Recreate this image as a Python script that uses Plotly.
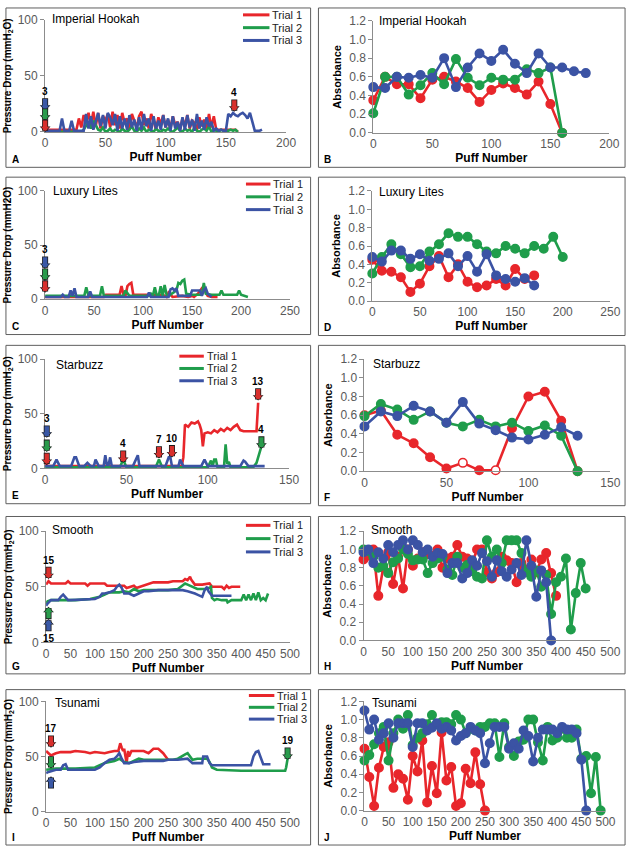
import plotly.graph_objects as go

# ======================= DATA =======================
TRIALS = ["Trial 1", "Trial 2", "Trial 3"]

# ---- A: Imperial Hookah, pressure drop (mmH2O) vs puff ----
A_t1_x = list(range(0, 162, 2))
A_t1_y = [2, 2, 2, 2, 2, 2, 2, 2, 2, 2, 2, 2, 2, 2,
          12, 4, 15, 8, 17, 6, 18, 5, 17, 3, 14, 10, 16, 4, 18, 6, 15,
          3, 17, 8, 12, 2, 16, 9, 4, 14, 18, 6, 12, 3, 16, 10, 2, 13, 7, 15, 4,
          11, 3, 14, 6, 9, 2, 12, 5, 15, 3, 10, 8, 2, 13, 5, 11, 3, 16, 4, 14,
          2, 2, 2, 2, 2, 2, 2, 2, 2, 0]
A_t2_x = list(range(0, 162, 2))
A_t2_y = [0, 0, 0, 0, 0, 0, 0, 0, 0, 0, 0, 0, 0, 0, 0, 0,
          2, 5, 9, 3, 10, 6, 2, 1, 4, 0, 1, 3, 0, 2, 1,
          0, 3, 1, 0, 2, 5, 1, 0, 3, 1, 4, 0, 2, 1, 0, 3, 1, 0, 2, 1,
          3, 1, 0, 2, 4, 1, 0, 3, 1, 2, 0, 4, 1, 0, 2, 3, 1, 5, 0, 2,
          1, 0, 2, 1, 0, 1, 2, 1, 2, 0]
A_t3_x = list(range(0, 182, 2))
A_t3_y = [1, 1, 1, 1, 1, 1,
          1, 12, 1, 1, 1, 10, 1, 1, 1, 1,
          1, 16, 3, 14, 2, 9, 17, 5, 15, 3, 17, 13, 6, 16, 1,
          14, 3, 12, 2, 15, 4, 11, 1, 13, 2, 16, 5, 12, 1, 14, 3, 10, 2, 15, 4,
          12, 1, 14, 3, 9, 1, 13, 2, 15, 4, 11, 1, 16, 3, 10, 2, 13, 5, 9, 1,
          3, 1, 2, 1, 1,
          16, 14, 17, 15, 14, 16, 17, 15, 12, 17, 10,
          1, 1, 1, 2]
A_arrow_x = [0, 0, 0, 157]
A_arrow_y = [19, 10, 0, 18]
A_arrow_trial = [3, 2, 1, 1]
A_arrow_dir = ["down", "down", "down", "down"]
A_arrow_label = ["3", "", "", "4"]

# ---- B: Imperial Hookah, absorbance ----
B_t1_x = list(range(0, 170, 10))
B_t1_y = [0.35, 0.60, 0.52, 0.52, 0.37, 0.57, 0.60, 0.55, 0.48, 0.33, 0.46, 0.53, 0.48, 0.41, 0.55, 0.31, 0.0]
B_t2_x = list(range(0, 170, 10))
B_t2_y = [0.21, 0.60, 0.60, 0.41, 0.51, 0.64, 0.52, 0.79, 0.59, 0.51, 0.59, 0.57, 0.57, 0.68, 0.64, 0.70, 0.0]
B_t3_x = list(range(0, 190, 10))
B_t3_y = [0.49, 0.48, 0.60, 0.59, 0.62, 0.59, 0.80, 0.49, 0.70, 0.85, 0.77, 0.89, 0.74, 0.64, 0.85, 0.70, 0.70, 0.66, 0.64]

# ---- C: Luxury Lites, pressure drop ----
C_t1_x = [0, 60, 62, 76, 78, 80, 82, 84, 86, 88, 90, 92, 120, 124, 126, 130, 140, 146, 150, 152, 156, 160, 162, 164, 166, 170, 176]
C_t1_y = [2, 2, 4, 4, 12, 4, 3, 12, 14, 15, 4, 4, 4, 2, 6, 2, 3, 2, 3, 2, 5, 10, 12, 6, 3, 2, 2]
C_t2_x = [0, 30, 40, 42, 44, 46, 56, 58, 60, 76, 80, 82, 86, 90, 100, 106, 108, 110, 112, 114, 116, 118, 120, 122,
          124, 126, 134, 136, 138, 140, 142, 144, 150, 160, 162, 164, 170, 178, 180, 182, 196, 198, 200, 207]
C_t2_y = [3, 3, 3, 11, 4, 3, 3, 12, 3, 3, 3, 8, 3, 3, 3, 3, 5, 3, 11, 3, 3, 12, 3, 13,
          4, 3, 8, 15, 14, 17, 18, 5, 4, 4, 15, 5, 4, 4, 8, 4, 4, 8, 4, 2]
C_t3_x = [0, 16, 18, 20, 24, 26, 28, 30, 32, 44, 46, 48, 100, 104, 106, 108, 126, 128, 130, 132, 134, 136, 148, 150,
          152, 158, 160, 162, 164, 166, 170]
C_t3_y = [2, 2, 4, 2, 2, 8, 3, 10, 2, 2, 7, 2, 2, 2, 6, 2, 2, 9, 10, 8, 10, 3, 3, 8,
          8, 8, 3, 8, 10, 5, 2]
C_arrow_x = [0, 0, 0]
C_arrow_y = [28, 17, 6]
C_arrow_trial = [3, 2, 1]
C_arrow_dir = ["down", "down", "down"]
C_arrow_label = ["3", "", ""]

# ---- D: Luxury Lites, absorbance ----
D_t1_x = list(range(0, 180, 10))
D_t1_y = [0.45, 0.33, 0.32, 0.26, 0.10, 0.19, 0.38, 0.49, 0.26, 0.40, 0.21, 0.15, 0.17, 0.24, 0.17, 0.35, 0.24, 0.28]
D_t2_x = list(range(0, 210, 10))
D_t2_y = [0.30, 0.48, 0.62, 0.51, 0.37, 0.38, 0.54, 0.62, 0.74, 0.70, 0.70, 0.62, 0.54, 0.52, 0.60, 0.57, 0.52,
          0.60, 0.57, 0.70, 0.48]
D_t3_x = list(range(0, 180, 10))
D_t3_y = [0.48, 0.43, 0.55, 0.55, 0.46, 0.51, 0.44, 0.46, 0.52, 0.38, 0.49, 0.32, 0.51, 0.28, 0.24, 0.21, 0.25, 0.17]

# ---- E: Starbuzz, pressure drop ----
E_t1_x = [0, 2, 84, 85, 86, 88, 90, 92, 94, 95, 96, 97, 98, 100, 102, 104, 106, 108, 110, 112, 114, 116, 118, 120,
          122, 124, 126, 128, 130, 131]
E_t1_y = [4, 2, 2, 10, 40, 38, 42, 41, 43, 40, 35, 20, 32, 33, 32, 35, 33, 36, 34, 37, 35, 38, 40, 35,
          34, 34, 34, 34, 34, 60]
E_t2_x = [0, 46, 48, 50, 68, 70, 72, 100, 102, 103, 104, 105, 106, 110, 111, 112, 113, 114, 128, 130, 132, 133]
E_t2_y = [1, 1, 8, 1, 1, 8, 1, 1, 7, 2, 8, 8, 1, 1, 22, 4, 6, 1, 1, 5, 15, 20]
E_t3_x = [0, 5, 7, 9, 16, 18, 19, 21, 24, 26, 28, 30, 31, 33, 36, 37, 38, 39, 40, 41, 54, 56, 57, 58, 74, 76, 77, 78,
          82, 83, 85, 96, 98, 100, 120, 122, 123, 125, 135]
E_t3_y = [2, 2, 8, 2, 2, 10, 10, 2, 2, 5, 2, 2, 8, 2, 2, 12, 3, 3, 10, 2, 2, 8, 12, 2, 2, 10, 10, 2,
          2, 8, 2, 2, 8, 2, 2, 7, 6, 2, 2]
E_arrow_x = [1, 1, 1, 48, 70, 78, 131, 133]
E_arrow_y = [28, 15, 3, 5, 9, 10, 62, 18]
E_arrow_trial = [3, 2, 1, 1, 1, 1, 1, 2]
E_arrow_dir = ["down"] * 8
E_arrow_label = ["3", "", "", "4", "7", "10", "13", "4"]

# ---- F: Starbuzz, absorbance ----
F_t1_x = list(range(0, 140, 10))
F_t1_y = [0.60, 0.65, 0.39, 0.30, 0.15, 0.03, 0.09, 0.01, 0.01, 0.46, 0.80, 0.85, 0.54, 0.0]
F_t1_open = [60, 80]   # puffs plotted as open circles
F_t2_x = list(range(0, 140, 10))
F_t2_y = [0.59, 0.72, 0.66, 0.55, 0.64, 0.52, 0.48, 0.55, 0.48, 0.52, 0.43, 0.49, 0.38, 0.0]
F_t3_x = list(range(0, 140, 10))
F_t3_y = [0.48, 0.64, 0.59, 0.70, 0.64, 0.52, 0.74, 0.51, 0.44, 0.36, 0.34, 0.39, 0.47, 0.38]

# ---- G: Smooth, pressure drop ----
G_t1_x = [0, 5, 10, 40, 45, 50, 80, 85, 90, 120, 125, 160, 165, 180, 185, 200, 210, 220, 250, 260, 280, 285, 290,
          295, 298, 300, 305, 320, 335, 340, 360, 365, 370, 375, 380, 385, 398]
G_t1_y = [52, 55, 53, 53, 55, 53, 53, 51, 53, 53, 51, 51, 49, 51, 49, 51, 52, 54, 54, 55, 55, 57, 56,
          59, 56, 55, 52, 52, 53, 50, 50, 48, 51, 49, 50, 50, 50]
G_t2_x = [0, 3, 10, 60, 90, 100, 110, 120, 130, 150, 160, 170, 180, 190, 200, 220, 250, 270, 280, 285, 290, 300,
          310, 330, 338, 340, 345, 350, 360, 370, 372, 380, 400, 405, 410, 415, 420, 425, 430, 435, 440, 445, 450, 455]
G_t2_y = [35, 37, 38, 38, 39, 40, 41, 43, 45, 45, 46, 45, 48, 46, 47, 47, 47, 48, 51, 53, 52, 50,
          48, 48, 50, 40, 38, 39, 38, 38, 36, 38, 38, 43, 38, 43, 38, 44, 38, 45, 38, 40, 38, 44]
G_t3_x = [0, 3, 10, 25, 30, 35, 45, 50, 100, 110, 115, 120, 130, 140, 145, 150, 155, 160, 170, 180, 190, 200, 210,
          230, 250, 280, 290, 300, 305, 310, 320, 325, 330, 333, 340, 350, 360, 370, 380]
G_t3_y = [33, 35, 38, 38, 41, 43, 38, 38, 39, 41, 44, 44, 45, 47, 50, 52, 49, 44, 44, 42, 44, 46, 46,
          47, 47, 47, 46, 45, 44, 43, 41, 47, 50, 46, 42, 42, 42, 42, 42]
G_arrow_x = [5, 5, 5]
G_arrow_y = [57, 32, 21]
G_arrow_trial = [1, 2, 3]
G_arrow_dir = ["down", "up", "up"]
G_arrow_label = ["15", "", "15"]

# ---- H: Smooth, absorbance ----
H_t1_x = list(range(0, 400, 10))
H_t1_y = [0.89, 0.93, 1.00, 0.49, 0.80, 0.97, 0.62, 0.92, 0.57, 1.00,
          0.82, 0.90, 0.97, 0.95, 0.93, 1.00, 0.80, 0.90, 0.92, 1.05,
          0.92, 0.90, 0.85, 1.00, 1.00, 0.75, 0.68, 0.75, 0.92, 0.88,
          0.85, 0.64, 0.85, 0.78, 0.89, 0.75, 0.89, 0.96, 0.74, 0.49]
H_t2_x = list(range(0, 460, 10))
H_t2_y = [1.00, 0.98, 0.92, 0.80, 0.82, 0.74, 0.86, 0.90, 1.00, 0.95,
          0.88, 0.89, 0.89, 0.74, 0.85, 0.90, 0.92, 0.78, 0.72, 0.92,
          0.80, 0.83, 0.76, 0.70, 0.68, 1.10, 0.92, 1.00, 0.85, 1.10,
          1.10, 1.10, 0.96, 0.75, 0.70, 0.77, 0.59, 0.72, 0.29, 0.64,
          0.70, 0.90, 0.12, 0.52, 0.85, 0.57]
H_t3_x = list(range(0, 390, 10))
H_t3_y = [0.97, 1.00, 0.85, 0.97, 0.90, 1.05, 0.97, 1.05, 1.10, 1.00,
          1.10, 1.05, 0.97, 1.00, 0.92, 0.96, 0.95, 0.74, 0.85, 0.85,
          0.68, 0.74, 0.88, 0.82, 0.96, 0.87, 0.70, 0.88, 0.76, 0.70,
          0.78, 0.85, 0.72, 1.10, 0.82, 0.48, 0.77, 0.64, 0.0]

# ---- I: Tsunami, pressure drop ----
I_t1_x = [0, 5, 10, 20, 30, 50, 60, 80, 90, 100, 120, 130, 140, 148, 150, 152, 155, 158, 160, 165, 168, 170, 175,
          180, 200, 210, 220, 230, 240, 245, 250]
I_t1_y = [55, 53, 51, 53, 54, 54, 55, 54, 53, 54, 53, 54, 55, 55, 60, 62, 58, 55, 57, 44, 55, 50, 55,
          55, 55, 53, 57, 57, 53, 50, 47]
I_t2_x = [0, 20, 60, 100, 110, 120, 130, 140, 150, 160, 170, 180, 190, 200, 260, 270, 280, 285, 290, 295, 300, 310,
          330, 335, 340, 350, 400, 450, 480, 490, 492, 495]
I_t2_y = [38, 39, 39, 40, 42, 44, 45, 46, 48, 45, 44, 46, 48, 47, 47, 48, 51, 52, 53, 50, 47, 48,
          48, 45, 40, 38, 37, 37, 37, 37, 40, 48]
I_t3_x = [0, 5, 20, 30, 35, 40, 45, 100, 110, 120, 130, 140, 145, 150, 155, 160, 170, 180, 200, 240, 250, 270, 290,
          300, 320, 322, 330, 335, 340, 360, 380, 400, 420, 425, 430, 435, 440, 445, 450, 460]
I_t3_y = [35, 36, 38, 38, 42, 43, 38, 38, 40, 44, 47, 48, 50, 53, 48, 44, 44, 45, 46, 46, 47, 47, 48,
          44, 44, 50, 50, 44, 42, 42, 42, 42, 42, 50, 54, 55, 48, 43, 43, 43]
I_arrow_x = [10, 10, 10, 495]
I_arrow_y = [58, 39, 32, 47]
I_arrow_trial = [1, 2, 3, 2]
I_arrow_dir = ["down", "down", "up", "down"]
I_arrow_label = ["17", "", "", "19"]

# ---- J: Tsunami, absorbance ----
J_t1_x = list(range(0, 260, 10))
J_t1_y = [0.68, 0.37, 0.05, 0.47, 0.70, 0.75, 0.25, 0.40, 0.35, 0.12,
          0.60, 0.43, 0.77, 0.09, 0.49, 0.19, 0.86, 0.33, 0.48, 0.05,
          0.08, 0.46, 0.30, 0.64, 0.29, 0.0]
J_t2_x = list(range(0, 500, 10))
J_t2_y = [0.55, 0.61, 0.73, 0.85, 0.92, 0.55, 0.85, 1.00, 0.90, 1.05,
          0.72, 0.80, 0.85, 0.95, 1.05, 0.95, 0.97, 0.97, 0.95, 1.05,
          1.00, 0.85, 0.90, 0.88, 0.92, 0.92, 0.96, 0.96, 0.59, 0.96,
          0.70, 0.60, 0.76, 0.78, 1.00, 1.00, 0.75, 0.55, 0.92, 0.77,
          0.80, 0.90, 0.80, 0.80, 0.89, 0.57, 0.60, 0.19, 0.59, 0.0]
J_t3_x = list(range(0, 470, 10))
J_t3_y = [1.10, 0.89, 1.00, 0.78, 0.85, 0.96, 0.80, 0.96, 0.96, 0.96,
          0.70, 0.96, 0.96, 0.88, 0.91, 0.96, 0.90, 0.92, 0.88, 0.77,
          0.82, 0.85, 0.92, 0.88, 0.85, 0.52, 0.74, 0.92, 0.92, 0.92,
          0.68, 0.74, 0.68, 0.88, 0.82, 0.54, 0.80, 0.89, 0.89, 0.89,
          0.85, 0.92, 0.89, 0.89, 0.85, 0.56, 0.0]

# ======================= STYLE / LAYOUT =======================
W, H = 638, 853
FONT = "Arial, Liberation Sans, sans-serif"
LINE_COL = {1: "#e8262b", 2: "#1f9d4b", 3: "#3b53a4"}
ARROW_COL = {1: "#d8302d", 2: "#2a9b4c", 3: "#3a58a6"}
TICK_COL = "#595959"
AXIS_COL = "#8c8c8c"


def dx(a, b):
    return [a / W, b / W]


def dy(t, b):
    return [1 - b / H, 1 - t / H]


# panel specs: letter, axis index, kind, frame box (l,t,r,b), plot box (l,t,r,b), xmax, title, title pos
PANELS = [
    ("A", 1, "p", (3, 1, 314, 163), (43, 13, 289, 127), 200, "Imperial Hookah", (48, 12)),
    ("B", 2, "a", (322, 1, 635, 163), (378, 14, 619, 128), 200, "Imperial Hookah", (382, 14)),
    ("C", 3, "p", (3, 173, 314, 333), (43, 187, 293, 297), 250, "Luxury Lites", (49, 187)),
    ("D", 4, "a", (322, 173, 635, 334), (377, 187, 620, 299), 250, "Luxury Lites", (382, 188)),
    ("E", 5, "p", (3, 344, 314, 505), (43, 358, 292, 469), 150, "Starbuzz", (52, 364)),
    ("F", 6, "a", (322, 344, 635, 507), (369, 358, 620, 472), 150, "Starbuzz", (376, 363)),
    ("G", 7, "p", (3, 518, 314, 678), (44, 533, 293, 646), 500, "Smooth", (48, 532)),
    ("H", 8, "a", (322, 518, 635, 678), (368, 533, 620, 644), 500, "Smooth", (374, 532)),
    ("I", 9, "p", (3, 694, 314, 852), (44, 706, 293, 818), 500, "Tsunami", (51, 708)),
    ("J", 10, "a", (322, 694, 635, 852), (369, 706, 615, 817), 500, "Tsunami", (375, 708)),
]

SERIES = {
    "A": [(A_t1_x, A_t1_y), (A_t2_x, A_t2_y), (A_t3_x, A_t3_y)],
    "B": [(B_t1_x, B_t1_y), (B_t2_x, B_t2_y), (B_t3_x, B_t3_y)],
    "C": [(C_t1_x, C_t1_y), (C_t2_x, C_t2_y), (C_t3_x, C_t3_y)],
    "D": [(D_t1_x, D_t1_y), (D_t2_x, D_t2_y), (D_t3_x, D_t3_y)],
    "E": [(E_t1_x, E_t1_y), (E_t2_x, E_t2_y), (E_t3_x, E_t3_y)],
    "F": [(F_t1_x, F_t1_y), (F_t2_x, F_t2_y), (F_t3_x, F_t3_y)],
    "G": [(G_t1_x, G_t1_y), (G_t2_x, G_t2_y), (G_t3_x, G_t3_y)],
    "H": [(H_t1_x, H_t1_y), (H_t2_x, H_t2_y), (H_t3_x, H_t3_y)],
    "I": [(I_t1_x, I_t1_y), (I_t2_x, I_t2_y), (I_t3_x, I_t3_y)],
    "J": [(J_t1_x, J_t1_y), (J_t2_x, J_t2_y), (J_t3_x, J_t3_y)],
}

ARROWS = {
    "A": (A_arrow_x, A_arrow_y, A_arrow_trial, A_arrow_dir, A_arrow_label),
    "C": (C_arrow_x, C_arrow_y, C_arrow_trial, C_arrow_dir, C_arrow_label),
    "E": (E_arrow_x, E_arrow_y, E_arrow_trial, E_arrow_dir, E_arrow_label),
    "G": (G_arrow_x, G_arrow_y, G_arrow_trial, G_arrow_dir, G_arrow_label),
    "I": (I_arrow_x, I_arrow_y, I_arrow_trial, I_arrow_dir, I_arrow_label),
}

# legend key placement (px): line x0, line x1, first row y, row step
LEGENDS = {"A": (245, 272, 8, 13), "C": (248, 273, 180, 13), "E": (180, 205, 355, 12.5),
           "G": (248, 273, 527, 13.5), "I": (251, 277, 700, 12)}

YTITLES = {"A": "Pressure Drop (mmH<sub>2</sub>O)", "C": "Pressure Drop (mmH2O)",
           "E": "Pressure Drop (mmH<sub>2</sub>O)", "G": "Pressure Drop (mmH<sub>2</sub>O)",
           "I": "Pressure Drop (mmH<sub>2</sub>O)"}

fig = go.Figure()
layout = dict(width=W, height=H, margin=dict(l=0, r=0, t=0, b=0),
              paper_bgcolor="white", plot_bgcolor="white",
              font=dict(family=FONT, color="black"), showlegend=False)
shapes, annotations = [], []

for letter, n, kind, frame, box, xmax, title, tpos in PANELS:
    xa, ya = f"x{n}", f"y{n}"
    suffix = "" if n == 1 else str(n)
    # frame
    shapes.append(dict(type="rect", xref="paper", yref="paper",
                       x0=frame[0] / W, x1=frame[2] / W, y0=1 - frame[3] / H, y1=1 - frame[1] / H,
                       line=dict(color="#5f5f5f", width=1), fillcolor="rgba(0,0,0,0)", layer="below"))
    layout["xaxis" + suffix] = dict(
        domain=dx(box[0], box[2]), anchor=ya, range=[0, xmax], dtick=50, tick0=0,
        showline=True, linecolor=AXIS_COL, linewidth=1, showgrid=False, zeroline=False,
        ticks="", ticklen=0, tickfont=dict(size=12, color=TICK_COL, family=FONT), fixedrange=True,
        title=dict(text="Puff Number", font=dict(size=12, family=FONT, weight="bold", color="black"),
                   standoff=0))
    if kind == "p":
        yr, ydt, yfmt, ytitle, ytsize, ystand = [0, 100], 50, None, YTITLES[letter], 10, 4
    else:
        yr, ydt, yfmt, ytitle, ytsize, ystand = [0, 1.2001], 0.2, ".1f", "Absorbance", 11, 5
    ycfg = dict(domain=dy(box[1], box[3]), anchor=xa, range=yr, dtick=ydt, tick0=0,
                showline=True, linecolor=AXIS_COL, linewidth=1, showgrid=False, zeroline=False,
                ticks="outside", ticklen=4, tickcolor=AXIS_COL,
                tickfont=dict(size=12, color=TICK_COL, family=FONT), fixedrange=True,
                title=dict(text=ytitle, font=dict(size=ytsize, family=FONT, weight="bold", color="black"),
                           standoff=ystand))
    if yfmt:
        ycfg["tickformat"] = yfmt
    layout["yaxis" + suffix] = ycfg

    # panel name and letter
    annotations.append(dict(text=title, xref="paper", yref="paper", x=tpos[0] / W, y=1 - tpos[1] / H,
                            xanchor="left", yanchor="middle", showarrow=False,
                            font=dict(size=12, family=FONT, color="black")))
    annotations.append(dict(text=letter, xref="paper", yref="paper", x=(frame[0] + 4) / W,
                            y=1 - (frame[3] - 8) / H, xanchor="left", yanchor="middle", showarrow=False,
                            font=dict(size=10, family=FONT, color="black", weight="bold")))

    # traces
    for t, (xs, ys) in enumerate(SERIES[letter], start=1):
        col = LINE_COL[t]
        if kind == "p":
            fig.add_trace(go.Scatter(x=xs, y=ys, mode="lines", name=TRIALS[t - 1],
                                     line=dict(color=col, width=2.6), xaxis=xa, yaxis=ya,
                                     cliponaxis=False, hoverinfo="skip"))
        else:
            mcol = col
            if letter == "F" and t == 1:
                mcol = ["white" if xv in F_t1_open else col for xv in xs]
            fig.add_trace(go.Scatter(x=xs, y=ys, mode="lines+markers", name=TRIALS[t - 1],
                                     line=dict(color=col, width=2.6),
                                     marker=dict(size=8.5, color=mcol, line=dict(color=col, width=1.5)),
                                     xaxis=xa, yaxis=ya, cliponaxis=False, hoverinfo="skip"))

    # legend key (line sample + label) for the pressure-drop panels
    if kind == "p":
        lx0, lx1, ly, step = LEGENDS[letter]
        for t in (1, 2, 3):
            yy = ly + (t - 1) * step
            shapes.append(dict(type="line", xref="paper", yref="paper", x0=lx0 / W, x1=lx1 / W,
                               y0=1 - yy / H, y1=1 - yy / H, line=dict(color=LINE_COL[t], width=3)))
            annotations.append(dict(text=TRIALS[t - 1], xref="paper", yref="paper", x=(lx1 + 1) / W,
                                    y=1 - yy / H, xanchor="left", yanchor="middle", showarrow=False,
                                    font=dict(size=11, family=FONT, color="#222222")))

    # block arrows (outlined) marking cleaning / refill events
    if letter in ARROWS:
        axs, ays, atr, adir, alab = ARROWS[letter]
        for xv, yv, tr, d, lab in zip(axs, ays, atr, adir, alab):
            sgn = -1 if d == "down" else 1
            annotations.append(dict(text="", xref=xa, yref=ya, x=xv, y=yv, ax=0, ay=sgn * 13.8,
                                    showarrow=True, arrowhead=1, arrowsize=0.3, arrowwidth=6.0,
                                    arrowcolor="#1a1a1a", standoff=0))
            annotations.append(dict(text="", xref=xa, yref=ya, x=xv, y=yv, ax=0, ay=sgn * 13.0,
                                    showarrow=True, arrowhead=1, arrowsize=0.32, arrowwidth=4.4,
                                    arrowcolor=ARROW_COL[tr], standoff=0.9))
            if lab:
                annotations.append(dict(text=lab, xref=xa, yref=ya, x=xv, y=yv,
                                        yshift=19 if d == "down" else -19, showarrow=False,
                                        xanchor="center", yanchor="middle",
                                        font=dict(size=10, family=FONT, color="black", weight="bold")))

layout["shapes"] = shapes
layout["annotations"] = annotations
fig.update_layout(**layout)
fig.write_html("out.html", config={"displayModeBar": False},
               post_script="document.body.style.margin='0';")
